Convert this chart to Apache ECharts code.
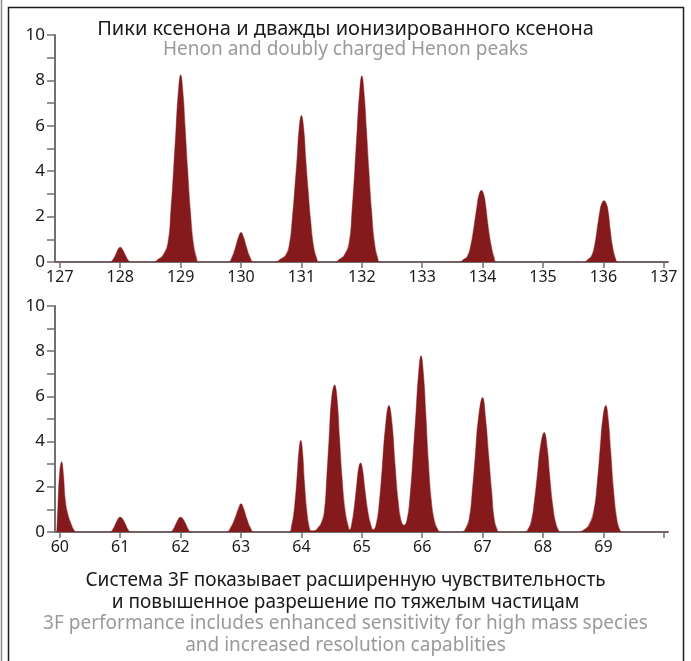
<!DOCTYPE html>
<html>
<head>
<meta charset="utf-8">
<script src="https://cdn.jsdelivr.net/npm/echarts@6/dist/echarts.min.js"></script>
<style>
html,body{margin:0;padding:0;background:#fff;}
#c{width:691px;height:661px;}
</style>
</head>
<body>
<div id="c"></div>
<script>
// ---- texts ----
var titleRu = 'Пики ксенона и дважды ионизированного ксенона';
var titleEn = 'Henon and doubly charged Henon peaks';
var captionRu = ['Система 3F показывает расширенную чувствительность', 'и повышенное разрешение по тяжелым частицам'];
var captionEn = ['3F performance includes enhanced sensitivity for high mass species', 'and increased resolution capablities'];

// ---- tick labels ----
var topTicks = [127, 128, 129, 130, 131, 132, 133, 134, 135, 136, 137];
var bottomTicks = [60, 61, 62, 63, 64, 65, 66, 67, 68, 69, 70];
var bottomTickLabels = [60, 61, 62, 63, 64, 65, 66, 67, 68, 69];

// ---- top spectrum (m/z, intensity) ----
var topMz = [
  126.92,
  127.83,127.88,127.93,127.97,128.0,128.03,128.08,128.13,128.17,
  128.56,128.63,128.71,128.79,128.84,128.885,128.925,128.96,129.0,129.04,129.075,129.115,129.16,129.21,129.26,129.3,
  129.79,129.85,129.91,129.96,130.0,130.04,130.09,130.15,130.21,
  130.58,130.65,130.74,130.8,130.85,130.89,130.93,130.96,131.0,131.04,131.07,131.11,131.15,131.2,131.25,131.29,
  131.56,131.63,131.71,131.79,131.84,131.885,131.925,131.96,132.0,132.04,132.075,132.115,132.16,132.21,132.26,132.3,
  133.62,133.68,133.75,133.81,133.86,133.91,133.94,133.98,134.02,134.05,134.09,134.14,134.19,134.23,
  135.68,135.74,135.81,135.86,135.9,135.94,135.97,136.01,136.05,136.08,136.11,136.15,136.2,136.24,
  137.07
];
var topIntensity = [
  0,
  0,0.1,0.35,0.58,0.65,0.58,0.33,0.08,0,
  0,0.12,0.3,0.83,2.3,4.1,5.9,7.4,8.25,7.4,5.9,4.1,2.3,0.83,0.2,0,
  0,0.2,0.65,1.1,1.3,1.1,0.65,0.2,0,
  0,0.12,0.3,0.75,1.9,3.2,4.6,5.8,6.45,5.8,4.6,3.2,1.9,0.7,0.18,0,
  0,0.12,0.3,0.83,2.3,4.1,5.9,7.35,8.2,7.35,5.9,4.1,2.3,0.83,0.2,0,
  0,0.1,0.25,0.8,1.6,2.5,2.95,3.15,2.95,2.5,1.6,0.75,0.2,0,
  0,0.1,0.3,0.8,1.5,2.2,2.55,2.7,2.55,2.2,1.5,0.7,0.15,0,
  0
];

// ---- bottom spectrum (m/z, intensity) ----
var bottomMz = [
  59.95,59.97,60.0,60.03,60.06,60.09,60.13,60.18,60.23,60.27,
  60.83,60.88,60.93,60.97,61.0,61.03,61.08,61.13,61.17,
  61.83,61.88,61.93,61.97,62.0,62.03,62.08,62.13,62.17,
  62.76,62.83,62.9,62.96,63.0,63.04,63.1,63.16,63.21,
  63.79,63.84,63.89,63.93,63.96,63.99,64.02,64.05,64.09,64.13,64.16,
  64.22,64.28,64.33,
  64.38,64.42,64.46,64.5,64.55,64.59,64.63,64.67,64.72,64.77,64.8,
  64.83,64.88,64.92,64.95,64.98,65.01,65.05,65.1,65.15,65.19,
  65.24,65.29,65.34,65.39,65.45,65.5,65.55,65.6,65.65,65.7,
  65.75,65.8,65.85,65.9,65.94,65.98,66.02,66.06,66.1,66.15,66.2,66.25,66.3,
  66.66,66.72,66.78,66.83,66.88,66.93,67.0,67.05,67.1,67.15,67.19,67.24,67.27,
  67.7,67.76,67.81,67.86,67.91,67.96,68.02,68.07,68.11,68.16,68.21,68.26,68.28,
  68.6,68.68,68.76,68.84,68.9,68.95,68.99,69.04,69.08,69.12,69.17,69.22,69.27,69.31,
  70.07
];
var bottomIntensity = [
  0,1.2,2.7,3.1,2.5,1.4,0.8,0.4,0.1,0,
  0,0.12,0.4,0.6,0.65,0.6,0.38,0.1,0,
  0,0.12,0.4,0.6,0.65,0.6,0.38,0.1,0,
  0,0.2,0.6,1.05,1.25,1.05,0.55,0.15,0,
  0,0.3,1.2,2.5,3.6,4.05,3.5,2.2,0.9,0.2,0.05,
  0.06,0.2,0.4,
  0.9,2.4,4.2,5.9,6.5,5.9,4.2,2.5,1.0,0.3,0.1,
  0.3,1.2,2.2,2.85,3.05,2.8,1.9,0.9,0.3,0.1,
  0.35,1.3,2.9,4.6,5.6,4.8,3.0,1.4,0.5,0.3,
  0.55,1.6,3.4,5.4,7.0,7.8,7.0,5.2,3.2,1.4,0.5,0.15,0,
  0,0.15,0.6,1.8,3.4,5.0,5.95,5.0,3.4,1.8,0.6,0.1,0,
  0,0.15,0.5,1.4,2.6,3.8,4.4,3.7,2.5,1.2,0.4,0.05,0,
  0,0.1,0.3,0.9,2.2,3.8,5.0,5.6,5.0,3.6,1.8,0.6,0.1,0,
  0
];

function pairs(xs, ys) {
  var out = [];
  for (var i = 0; i < xs.length; i++) out.push([xs[i], ys[i]]);
  return out;
}

var FONT = 'Noto Sans';
var AX = '#707070';
var PEAK = '#841a1c';

function yAxisCfg(idx) {
  return {
    type: 'value', gridIndex: idx, min: 0, max: 10, interval: 1,
    axisLine: {show: true, lineStyle: {color: AX, width: 2}},
    axisTick: {show: true, length: 8, lineStyle: {color: AX, width: 1.5}},
    axisLabel: {
      color: '#1a1a1a', fontFamily: FONT, fontSize: 17, margin: 10,
      formatter: function (v) { return v % 2 === 0 ? String(v) : ''; }
    },
    splitLine: {show: false}
  };
}

function xAxisCfg(idx, mn, mx, ticks, labels) {
  return {
    type: 'value', gridIndex: idx, min: mn, max: mx,
    axisLine: {show: true, onZero: false, lineStyle: {color: AX, width: 2}},
    axisTick: {show: true, length: 6, customValues: ticks, lineStyle: {color: AX, width: 1.5}},
    axisLabel: {
      color: '#1a1a1a', fontFamily: FONT, fontSize: 16, margin: 7,
      customValues: labels
    },
    splitLine: {show: false}
  };
}

function captionTitle(text, top, color) {
  return {
    text: text, left: 'center', top: top, padding: 0,
    textStyle: {fontFamily: FONT, fontSize: 19, fontWeight: 'normal', color: color, lineHeight: 21}
  };
}

var chart = echarts.init(document.getElementById('c'), null, {renderer: 'canvas'});
chart.setOption({
  backgroundColor: '#fff',
  animation: false,
  graphic: [
    {type: 'line', shape: {x1: 1.5, y1: 0, x2: 1.5, y2: 661}, style: {stroke: '#8a8a8a', lineWidth: 1.5}, silent: true},
    {type: 'rect', shape: {x: 8.5, y: 7.5, width: 675, height: 700}, style: {fill: 'none', stroke: '#1e1e1e', lineWidth: 1.5}, silent: true, z: -1}
  ],
  title: [
    {
      text: titleRu, subtext: titleEn, left: 'center', top: 19, itemGap: 0, padding: 0,
      textStyle: {fontFamily: FONT, fontSize: 20, fontWeight: 'normal', color: '#1a1a1a', lineHeight: 21},
      subtextStyle: {fontFamily: FONT, fontSize: 19, color: '#9a9a9a', lineHeight: 20}
    },
    captionTitle(captionRu[0], 570.5, '#1a1a1a'),
    captionTitle(captionRu[1], 592, '#1a1a1a'),
    captionTitle(captionEn[0], 613.5, '#9a9a9a'),
    captionTitle(captionEn[1], 635, '#9a9a9a')
  ],
  grid: [
    {left: 55, top: 35, width: 613, height: 227},
    {left: 55, top: 306, width: 613, height: 226}
  ],
  xAxis: [
    xAxisCfg(0, 126.92, 137.07, topTicks, topTicks),
    xAxisCfg(1, 59.92, 70.07, bottomTicks, bottomTickLabels)
  ],
  yAxis: [yAxisCfg(0), yAxisCfg(1)],
  series: [
    {
      type: 'line', xAxisIndex: 0, yAxisIndex: 0, data: pairs(topMz, topIntensity),
      showSymbol: false, smooth: 0.5,
      lineStyle: {color: 'rgba(132,26,28,0.45)', width: 1.2},
      areaStyle: {color: PEAK, opacity: 1}, z: 1
    },
    {
      type: 'line', xAxisIndex: 1, yAxisIndex: 1, data: pairs(bottomMz, bottomIntensity),
      showSymbol: false, smooth: 0.5,
      lineStyle: {color: 'rgba(132,26,28,0.45)', width: 1.2},
      areaStyle: {color: PEAK, opacity: 1}, z: 1
    }
  ]
});
</script>
</body>
</html>
